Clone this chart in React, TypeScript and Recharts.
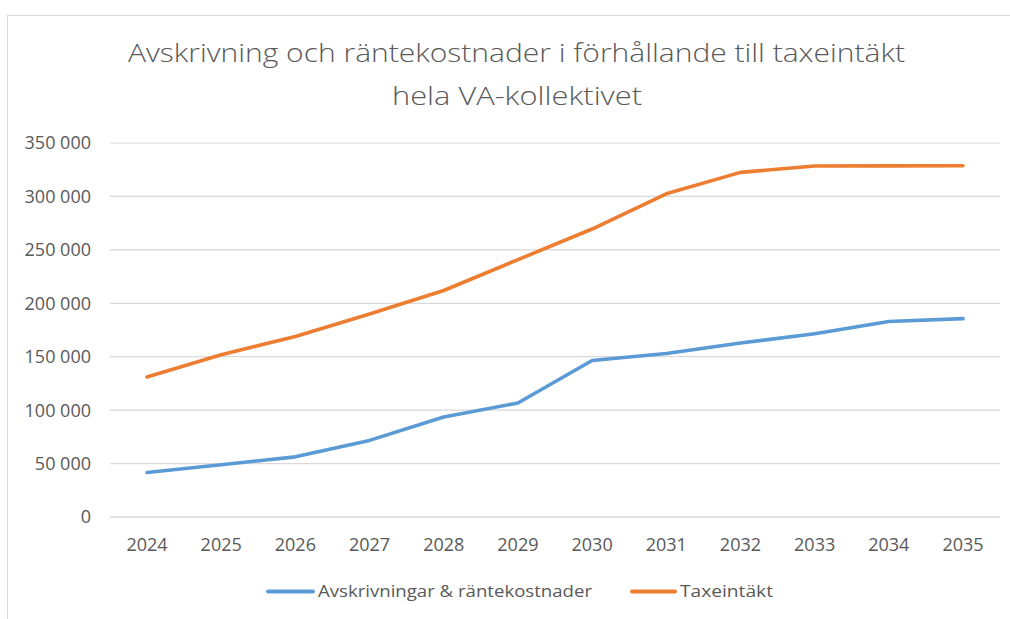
import React from "react";
import { LineChart, Line, XAxis, YAxis, CartesianGrid } from "recharts";

// Years on the category axis
const years = ["2024", "2025", "2026", "2027", "2028", "2029", "2030", "2031", "2032", "2033", "2034", "2035"];

// Depreciation and interest costs
const avskrivningar = [41700, 48900, 56300, 71700, 93500, 106700, 146500, 153000, 162800, 171500, 183000, 185600];

// Tariff revenue
const taxeintakt = [131000, 151900, 169000, 190000, 212000, 240800, 269500, 302500, 322500, 328500, 328600, 328700];

// Value-axis ticks
const yTicks = [0, 50000, 100000, 150000, 200000, 250000, 300000, 350000];

const series = [
  { key: "avskrivningar", name: "Avskrivningar & räntekostnader", color: "#5b9bd5" },
  { key: "taxeintakt", name: "Taxeintäkt", color: "#ed7d31" },
];

const data = years.map((year, i) => ({
  year,
  avskrivningar: avskrivningar[i],
  taxeintakt: taxeintakt[i],
}));

const formatThousands = (v: number) =>
  String(v).replace(/\B(?=(\d{3})+(?!\d))/g, " ");

const FONT = "'Open Sans', 'Noto Sans', sans-serif";
const TEXT = "#595959";

// Legend layout: line sample start, text start and text width for each entry
const legendLayout = [
  { lineX: 266, textX: 318, textW: 274 },
  { lineX: 630, textX: 680, textW: 93 },
];

export default function App() {
  return (
    <div
      style={{
        position: "absolute",
        left: 0,
        top: 0,
        width: 1010,
        height: 619,
        background: "#ffffff",
        overflow: "hidden",
        fontFamily: FONT,
      }}
    >
      {/* chart frame */}
      <div
        style={{
          position: "absolute",
          left: 7,
          top: 15,
          width: 1010,
          height: 619,
          borderLeft: "1px solid #d9d9d9",
          borderTop: "1px solid #d9d9d9",
        }}
      />
      <div style={{ position: "absolute", left: 0, top: 0 }}>
        <LineChart
          width={1010}
          height={619}
          data={data}
          margin={{ top: 143, right: 10, bottom: 72, left: 30 }}
        >
          <CartesianGrid vertical={false} stroke="#d9d9d9" strokeWidth={1.2} />
          <XAxis
            dataKey="year"
            height={30}
            padding={{ left: 37, right: 37 }}
            tickLine={false}
            tickSize={0}
            tickMargin={21}
            axisLine={{ stroke: "#d9d9d9", strokeWidth: 1.2 }}
            tick={{ fill: TEXT, fontSize: 18, fontFamily: FONT }}
            interval={0}
          />
          <YAxis
            width={80}
            domain={[0, 350000]}
            ticks={yTicks}
            tickFormatter={formatThousands}
            axisLine={false}
            tickLine={false}
            tickSize={0}
            tickMargin={19}
            tick={{ fill: TEXT, fontSize: 18, fontFamily: FONT }}
            interval={0}
          />
          {series.map((s) => (
            <Line
              key={s.key}
              type="linear"
              dataKey={s.key}
              name={s.name}
              stroke={s.color}
              strokeWidth={3.6}
              strokeLinecap="round"
              strokeLinejoin="round"
              dot={false}
              activeDot={false}
              isAnimationActive={false}
            />
          ))}
        </LineChart>
      </div>
      <svg
        width={1010}
        height={619}
        style={{ position: "absolute", left: 0, top: 0, pointerEvents: "none" }}
      >
        <text
          x={516.5}
          y={62}
          textAnchor="middle"
          fontFamily={FONT}
          fontWeight={300}
          fontSize={26}
          fill={TEXT}
          textLength={777}
          lengthAdjust="spacingAndGlyphs"
        >
          Avskrivning och räntekostnader i förhållande till taxeintäkt
        </text>
        <text
          x={517}
          y={105}
          textAnchor="middle"
          fontFamily={FONT}
          fontWeight={300}
          fontSize={26}
          fill={TEXT}
          textLength={250}
          lengthAdjust="spacingAndGlyphs"
        >
          hela VA-kollektivet
        </text>
        {series.map((s, i) => {
          const l = legendLayout[i];
          return (
            <g key={s.key}>
              <line
                x1={l.lineX + 2}
                x2={l.textX - 5}
                y1={591.5}
                y2={591.5}
                stroke={s.color}
                strokeWidth={4}
                strokeLinecap="round"
              />
              <text
                x={l.textX}
                y={597}
                fontFamily={FONT}
                fontSize={16}
                fill={TEXT}
                textLength={l.textW}
                lengthAdjust="spacingAndGlyphs"
              >
                {s.name}
              </text>
            </g>
          );
        })}
      </svg>
    </div>
  );
}
